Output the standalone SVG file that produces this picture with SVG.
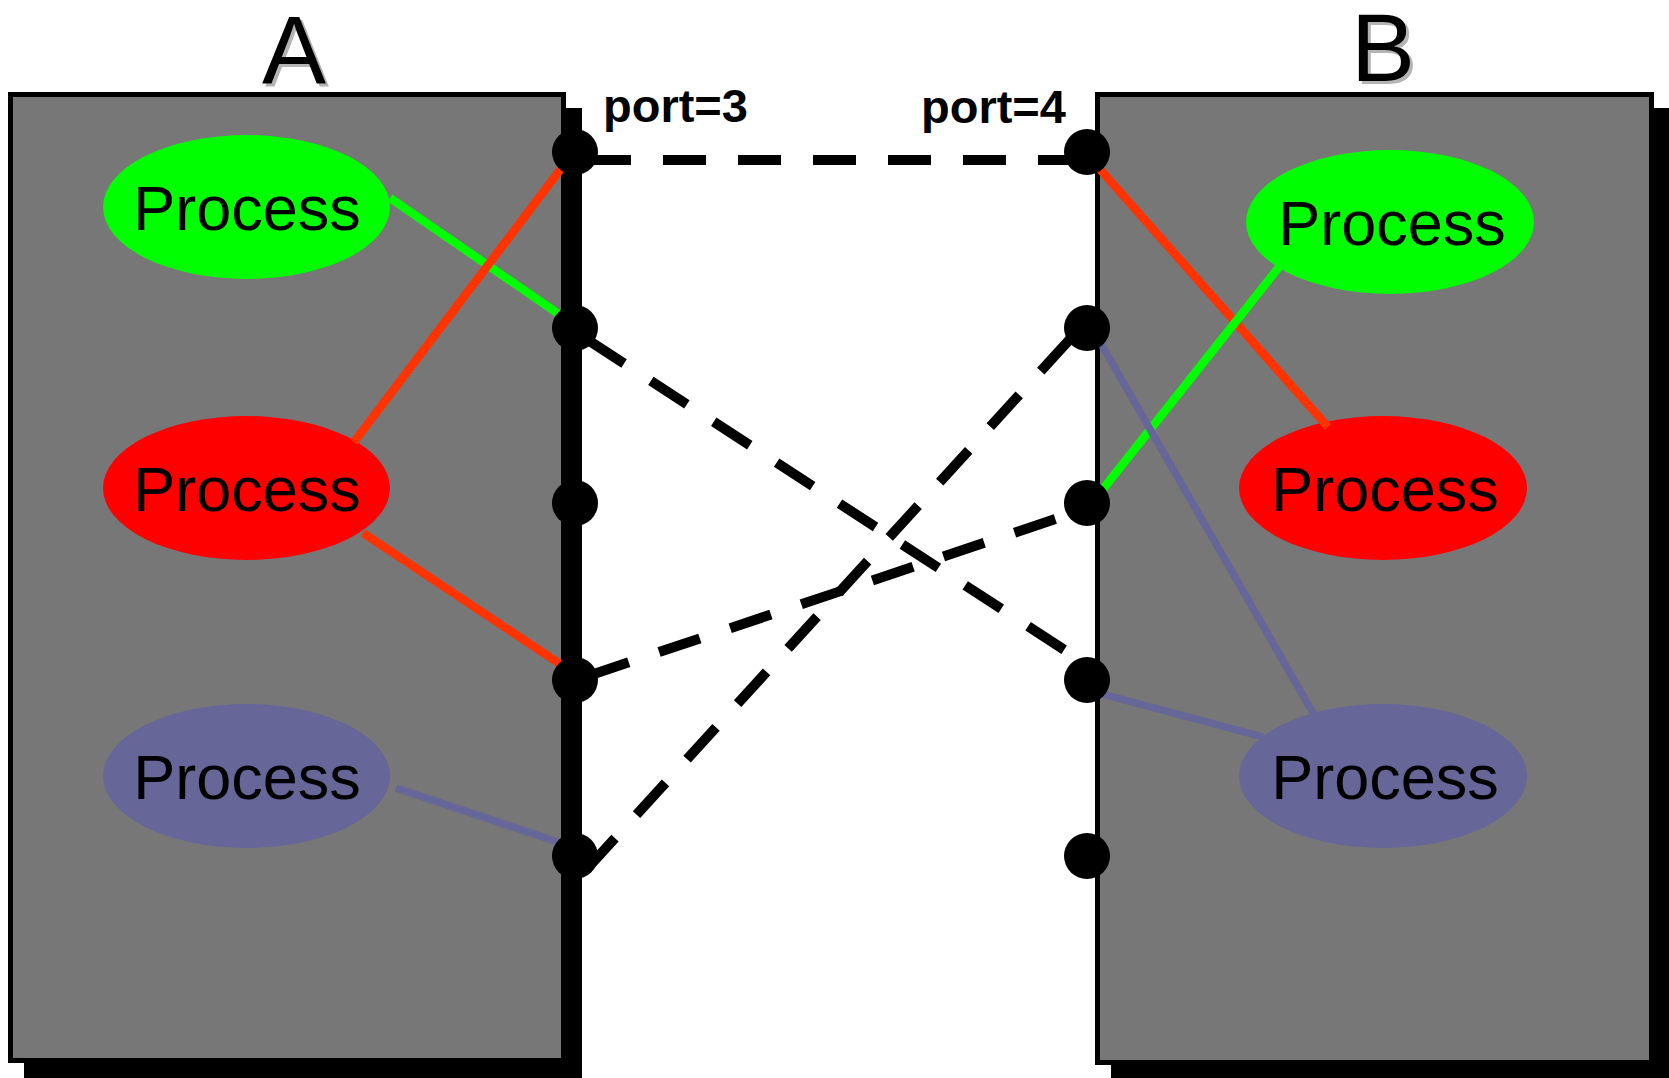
<svg xmlns="http://www.w3.org/2000/svg" width="1669" height="1078" viewBox="0 0 1669 1078">
<style>
.box{fill:#777777;stroke:#000;stroke-width:5}
.shadow{fill:#000}
.title{font-family:"Liberation Sans",Arial,sans-serif;font-size:96px;text-anchor:middle}
.tshadow{fill:#b4b4b4}
.plabel{font-family:"Liberation Sans",Arial,sans-serif;font-size:47px;font-weight:bold;fill:#000}
.ptxt{font-family:"Liberation Sans",Arial,sans-serif;font-size:63px;text-anchor:middle;fill:#000}
.port{fill:#000}
.dash{fill:none;stroke:#000;stroke-width:10;stroke-dasharray:43 32}
.ln{fill:none;stroke-width:8.5}
.red{stroke:#ff3300}
.green{stroke:#00ff00}
.purple{stroke:#666699;stroke-width:7.5}
</style>
<rect width="1669" height="1078" fill="#fff"/>
<g id="hostA">
<rect class="shadow" x="24" y="108" width="558" height="975"/>
<rect class="box" x="10.5" y="94.5" width="553" height="966"/>
<text class="title tshadow" x="297" y="86">A</text>
<text class="title" x="294" y="83">A</text>
</g>
<g id="hostB">
<rect class="shadow" x="1111" y="108" width="570" height="975"/>
<rect class="box" x="1097.5" y="94.5" width="554" height="968"/>
<text class="title tshadow" x="1386" y="84">B</text>
<text class="title" x="1383" y="81">B</text>
</g>
<g id="procA1"><ellipse cx="246.5" cy="207" rx="143.5" ry="72" fill="#00ff00"/><text class="ptxt" x="247" y="230">Process</text></g>
<g id="procA2"><ellipse cx="246.5" cy="488" rx="143.5" ry="72" fill="#ff0000"/><text class="ptxt" x="247" y="511">Process</text></g>
<g id="procA3"><ellipse cx="246.5" cy="776" rx="143.5" ry="72" fill="#666699"/><text class="ptxt" x="247" y="799">Process</text></g>
<g id="procB1"><ellipse cx="1390" cy="222" rx="144" ry="72" fill="#00ff00"/><text class="ptxt" x="1392" y="245">Process</text></g>
<g id="procB2"><ellipse cx="1383" cy="488" rx="144" ry="72" fill="#ff0000"/><text class="ptxt" x="1385" y="511">Process</text></g>
<g id="procB3"><ellipse cx="1383" cy="776" rx="144" ry="72" fill="#666699"/><text class="ptxt" x="1385" y="799">Process</text></g>
<g id="connectors">
<line class="ln green" x1="390" y1="198" x2="560" y2="315"/>
<line class="ln red" x1="563" y1="166" x2="354" y2="442"/>
<line class="ln red" x1="363" y1="533" x2="560" y2="664"/>
<line class="ln purple" x1="396" y1="788" x2="558" y2="842"/>
<line class="ln red" x1="1097" y1="166" x2="1328" y2="427"/>
<line class="ln green" x1="1279" y1="267" x2="1103" y2="489"/>
<line class="ln purple" x1="1100" y1="342" x2="1313" y2="713"/>
<line class="ln purple" x1="1102" y1="694" x2="1263" y2="737"/>
<line class="dash" x1="588" y1="160" x2="1087" y2="160"/>
<line class="dash" x1="588" y1="340" x2="1080" y2="660"/>
<line class="dash" x1="588" y1="676" x2="1082" y2="510"/>
<line class="dash" x1="586" y1="870" x2="1082" y2="326"/>
</g>
<g id="portsA">
<circle class="port" cx="575" cy="152" r="23"/>
<circle class="port" cx="575" cy="328" r="23"/>
<circle class="port" cx="575" cy="503" r="23"/>
<circle class="port" cx="575" cy="680" r="23"/>
<circle class="port" cx="575" cy="856" r="23"/>
</g>
<g id="portsB">
<circle class="port" cx="1087" cy="152" r="23"/>
<circle class="port" cx="1087" cy="328" r="23"/>
<circle class="port" cx="1087" cy="503" r="23"/>
<circle class="port" cx="1087" cy="680" r="23"/>
<circle class="port" cx="1087" cy="856" r="23"/>
</g>
<text class="plabel" x="603" y="122">port=3</text>
<text class="plabel" x="921" y="123">port=4</text>
</svg>
